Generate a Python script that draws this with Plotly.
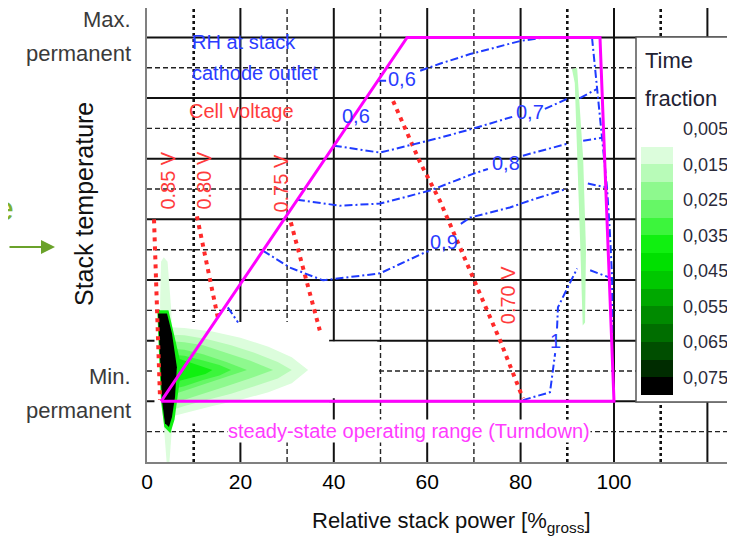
import plotly.graph_objects as go

# The page body adds an 8px margin, so the figure is drawn 8px smaller and all
# reference pixel positions (p) are converted with that offset.
OFF = 8
W, H = 735 - OFF, 542 - OFF
ML, MR, MT, MB = 147 - OFF, 0, 0, 80
PW, PH = W - ML - MR, H - MT - MB
XPX, YPX = 4.67, 30.33          # pixels per x unit / y unit in the reference


def pxx(p):
    return (p - OFF - ML) / PW


def pxy(p):
    return (H - MB - (p - OFF)) / PH


FONT = "Arial, 'Liberation Sans', sans-serif"

# ---------------- data ----------------
x_ticks = [0, 20, 40, 60, 80, 100]
x_tick_labels = ["0", "20", "40", "60", "80", "100"]

# steady-state operating range (turndown): x = relative power [%], y = temperature (grid units, 2 = min, 14 = max permanent)
range_x = [3.0, 55.7, 97.0, 100.0, 3.0]
range_y = [2.0, 14.0, 14.0, 2.0, 2.0]

# cell voltage isolines
v085_x = [1.5, 2.1, 2.8]
v085_y = [8.0, 5.0, 2.05]
v080_x = [10.7, 15.2]
v080_y = [8.1, 4.74]
v075_x = [30.8, 37.0]
v075_y = [7.9, 4.34]
v070_x = [52.7, 58.5, 62.7, 69.8, 75.6, 80.5]
v070_y = [11.9, 9.87, 8.62, 6.05, 4.01, 2.1]
voltage_labels = ["0.85 V", "0.80 V", "0.75 V", "0.70 V"]
voltage_label_x = [4.3, 12.0, 28.7, 77.3]
voltage_label_y = [9.28, 9.28, 9.18, 5.5]

# relative humidity isolines (stack cathode outlet)
rh_a_x = [49.5, 51.2, None, 58.5, 62.7, 69.2, 79.9, 85.2]
rh_a_y = [12.57, 12.57, None, 12.9, 13.13, 13.45, 13.88, 14.0]
rh_b_x = [40.0, 49.9, 62.7, 69.8, 78.2, None, 85.2, 89.9, None, 92.7, 96.4]
rh_b_y = [10.43, 10.2, 10.69, 10.99, 11.38, None, 11.64, 11.97, None, 12.0, 12.3]
rh_c_x = [32.1, 41.3, 49.9, 60.6, 69.8, 73.0, None, 80.5, 89.9, None, 93.4, 97.4]
rh_c_y = [8.65, 8.45, 8.52, 8.95, 9.5, 9.66, None, 10.1, 10.49, None, 10.59, 10.69]
rh_d_x = [24.8, 30.6, 37.7, 49.9, 59.5, 60.3, None, 67.2, 69.2, 77.7, 82.0, 89.9, None, 94.4, 98.5]
rh_d_y = [6.97, 6.41, 5.99, 6.22, 6.91, 6.95, None, 7.85, 8.06, 8.39, 8.62, 9.01, None, 9.18, 9.05]
rh_e_x = [80.5, 86.3, 87.4, None, 87.8, 88.0, 90.1, 92.1, None, 94.9, 99.6]
rh_e_y = [2.04, 2.3, 3.59, None, 4.4, 5.1, 5.76, 6.38, None, 6.32, 6.05]
rh_r_x = [95.3, 96.4, 97.4, 98.5, 99.1, 99.6, 99.6]
rh_r_y = [13.98, 12.3, 10.69, 9.05, 7.63, 6.05, 4.01]
rh_s_x = [17.3, 19.5]
rh_s_y = [5.1, 4.6]
rh_labels = ["0,6", "0,6", "0,7", "0,8", "0,9", "1"]
rh_label_x = [44.8, 54.6, 82.0, 76.9, 63.6, 87.4]
rh_label_y = [11.41, 12.63, 11.54, 9.87, 7.24, 3.98]

# time fraction distribution (filled iso-areas)
tf_streak_lo_x = [3.0, 3.6, 4.4, 5.2, 5.6, 5.4, 4.8, 4.2, 3.6, 3.0, 2.8]
tf_streak_lo_y = [6.6, 6.75, 6.6, 5.0, 3.0, 1.2, 0.0, 0.0, 1.2, 3.5, 5.2]
tf_s1_x = [4, 8, 14, 20, 26, 31, 34.5, 31, 26, 20, 14, 8, 4]
tf_s1_y = [4.45, 4.42, 4.3, 4.1, 3.8, 3.45, 3.03, 2.6, 2.3, 2.05, 1.85, 1.6, 1.45]
tf_s2_x = [4, 8, 13, 18, 23, 28, 31, 28, 23, 18, 13, 8, 4]
tf_s2_y = [4.2, 4.18, 4.05, 3.85, 3.6, 3.3, 3.03, 2.75, 2.5, 2.25, 2.05, 1.85, 1.65]
tf_s3_x = [4, 8, 12, 17, 22, 27, 22, 17, 12, 8, 4]
tf_s3_y = [4.0, 3.95, 3.85, 3.6, 3.35, 3.03, 2.75, 2.5, 2.25, 2.05, 1.9]
tf_s4_x = [4, 8, 12, 17, 21.4, 17, 12, 8, 4]
tf_s4_y = [3.75, 3.7, 3.55, 3.3, 3.03, 2.8, 2.55, 2.35, 2.15]
tf_s5_x = [4, 8, 12, 15.5, 18, 15.5, 12, 8, 4]
tf_s5_y = [3.55, 3.5, 3.35, 3.2, 3.03, 2.85, 2.7, 2.5, 2.35]
tf_s6_x = [2.2, 4.6, 7.0, 10, 12.5, 14, 12.5, 10, 7.0, 5.9, 5.0, 3.7, 3.0, 2.6, 2.2]
tf_s6_y = [5.0, 5.0, 3.4, 3.25, 3.1, 3.03, 2.9, 2.8, 2.68, 1.4, 0.95, 1.15, 2.0, 3.45, 5.0]
tf_core_x = [2.36, 4.28, 5.35, 6.4, 6.0, 5.35, 4.7, 3.85, 3.2, 2.8, 2.36]
tf_core_y = [4.9, 4.9, 4.24, 3.12, 2.14, 1.48, 1.15, 1.28, 2.04, 3.45, 4.9]
tf_streak_hi_x = [91.0, 92.1, 93.4, 94.0, 93.8, 93.3, 92.8, 92.2, 91.6]
tf_streak_hi_y = [12.95, 13.0, 10.0, 7.0, 4.6, 4.5, 7.0, 10.0, 12.5]

tf_shapes = [
    (tf_streak_lo_x, tf_streak_lo_y, 0.010),
    (tf_s1_x, tf_s1_y, 0.010),
    (tf_s2_x, tf_s2_y, 0.015),
    (tf_s3_x, tf_s3_y, 0.020),
    (tf_s4_x, tf_s4_y, 0.025),
    (tf_s5_x, tf_s5_y, 0.030),
    (tf_s6_x, tf_s6_y, 0.035),
    (tf_core_x, tf_core_y, 0.075),
    (tf_streak_hi_x, tf_streak_hi_y, 0.015),
]

# colour legend (time fraction)
tf_band_lo = [0.010, 0.015, 0.020, 0.025, 0.030, 0.035, 0.040, 0.045,
              0.050, 0.055, 0.060, 0.065, 0.070, 0.075]
tf_band_colors = ["#dcfddc", "#b8fbb8", "#8ef98e", "#66f766", "#3cf53c", "#10f010", "#00e000",
                  "#00c800", "#00a800", "#008a00", "#006e00", "#004e00", "#002c00", "#000000"]
tf_tick_vals = [0.005, 0.015, 0.025, 0.035, 0.045, 0.055, 0.065, 0.075]
tf_tick_text = ["0,005", "0,015", "0,025", "0,035", "0,045", "0,055", "0,065", "0,075"]
TF_MIN, TF_MAX = 0.005, 0.080


def band_color(level):
    i = int(round((level - tf_band_lo[0]) / 0.005))
    return tf_band_colors[max(0, min(i, len(tf_band_colors) - 1))]


fig = go.Figure()

# filled time-fraction areas
for xs, ys, lv in tf_shapes:
    fig.add_trace(go.Scatter(x=xs, y=ys, mode="lines", fill="toself",
                             fillcolor=band_color(lv), line=dict(width=0, color=band_color(lv)),
                             hoverinfo="skip", showlegend=False))

# colour bar via dummy trace (values mapped negatively so small values sit on top)
cmin, cmax = -TF_MAX, -TF_MIN
span = cmax - cmin
cs = []
for lo, col in sorted(zip(tf_band_lo, tf_band_colors), key=lambda t: -t[0]):
    hi = lo + 0.005
    p0 = round((-hi - cmin) / span, 5)
    p1 = round((-lo - cmin) / span, 5)
    cs.append([p0, col])
    cs.append([p1, col])
cs.append([round((-0.010 - cmin) / span, 5), "#ffffff"])
cs.append([1.0, "#ffffff"])
cs[0][0] = 0.0

fig.add_trace(go.Scatter(
    x=[-50] * len(tf_tick_vals), y=[-50] * len(tf_tick_vals), mode="markers",
    marker=dict(color=[-v for v in tf_tick_vals], cmin=cmin, cmax=cmax, colorscale=cs,
                showscale=True, size=1,
                colorbar=dict(thickness=32, thicknessmode="pixels", len=266, lenmode="pixels",
                              x=pxx(641), xanchor="left", y=pxy(129), yanchor="top",
                              xpad=0, ypad=0, outlinewidth=0, borderwidth=0,
                              bgcolor="rgba(0,0,0,0)",
                              tickvals=[-v for v in tf_tick_vals], ticktext=tf_tick_text,
                              ticks="outside", ticklen=7, tickcolor="rgba(0,0,0,0)",
                              tickfont=dict(family=FONT, size=18, color="#2b2b3b"))),
    hoverinfo="skip", showlegend=False))

# voltage lines
red = "#ff2a2a"
for xs, ys in [(v085_x, v085_y), (v080_x, v080_y), (v075_x, v075_y), (v070_x, v070_y)]:
    fig.add_trace(go.Scatter(x=xs, y=ys, mode="lines",
                             line=dict(color=red, width=4, dash="4px,5px"),
                             hoverinfo="skip", showlegend=False))

# RH lines
blue = "#1f3bff"
for xs, ys in [(rh_a_x, rh_a_y), (rh_b_x, rh_b_y), (rh_c_x, rh_c_y), (rh_d_x, rh_d_y),
               (rh_e_x, rh_e_y), (rh_r_x, rh_r_y), (rh_s_x, rh_s_y)]:
    fig.add_trace(go.Scatter(x=xs, y=ys, mode="lines", connectgaps=False,
                             line=dict(color=blue, width=2, dash="8px,3px,2px,3px"),
                             hoverinfo="skip", showlegend=False))

# operating range
fig.add_trace(go.Scatter(x=range_x, y=range_y, mode="lines",
                         line=dict(color="#ff00ff", width=3),
                         hoverinfo="skip", showlegend=False))

# ---------------- grid (shapes) ----------------
shapes = []
for xv in range(10, 126, 10):
    if xv % 20 == 0:
        ln = dict(color="#111111", width=2)
    elif xv in (10, 90, 110):
        ln = dict(color="#111111", width=2.6, dash="3px,3px")
    else:
        ln = dict(color="#222222", width=1.4, dash="5px,3px")
    shapes.append(dict(type="line", xref="x", yref="y", x0=xv, x1=xv, y0=0, y1=15,
                       line=ln, layer="below"))
for yv in range(1, 15):
    if yv % 2 == 0:
        ln = dict(color="#111111", width=2)
    else:
        ln = dict(color="#222222", width=1.4, dash="5px,3px")
    shapes.append(dict(type="line", xref="x", yref="y", x0=0, x1=126, y0=yv, y1=yv,
                       line=ln, layer="below"))
# blank areas of the grid in the lower-left
shapes.append(dict(type="rect", xref="x", yref="y", x0=1.6, x1=39.0, y0=1.27, y1=4.62,
                   fillcolor="white", line=dict(width=0), layer="below"))
shapes.append(dict(type="rect", xref="x", yref="y", x0=39.0, x1=49.3, y0=2.1, y1=3.97,
                   fillcolor="white", line=dict(width=0), layer="below"))
# legend box
shapes.append(dict(type="rect", xref="paper", yref="paper", x0=pxx(636), x1=pxx(731),
                   y0=pxy(402), y1=pxy(37), fillcolor="white",
                   line=dict(color="#555555", width=1.5), layer="above"))

# ---------------- annotations ----------------
ann = []


def txt(x, y, text, size, color, xref="paper", yref="paper", xanchor="center", angle=0, **kw):
    d = dict(x=x, y=y, xref=xref, yref=yref, text=text, showarrow=False, xanchor=xanchor,
             yanchor="middle", textangle=angle, font=dict(family=FONT, size=size, color=color))
    d.update(kw)
    ann.append(d)


for t, xv, yv in zip(voltage_labels, voltage_label_x, voltage_label_y):
    txt(xv, yv, t, 20, "#ff3b3b", "x", "y", angle=-90)
for t, xv, yv in zip(rh_labels, rh_label_x, rh_label_y):
    txt(xv, yv, t, 20, "#2a3cff", "x", "y")
txt(pxx(190), pxy(42), "RH at stack", 20, "#2a3cff", xanchor="left")
txt(pxx(190), pxy(73), "cathode outlet", 20, "#2a3cff", xanchor="left")
txt(pxx(187), pxy(111), "Cell voltage", 20, "#ff3b3b", xanchor="left")
txt(56.0, 1.02, "steady-state operating range (Turndown)", 20, "#ff3cff", "x", "y",
    bgcolor="white", borderpad=0)
# legend title
txt(pxx(643), pxy(60), "Time", 22, "#222233", xanchor="left")
txt(pxx(643), pxy(98), "fraction", 22, "#222233", xanchor="left")
# y labels
for t, yy in [("Max.", 20), ("permanent", 53), ("Min.", 376), ("permanent", 410)]:
    txt(pxx(133), pxy(yy), t, 22, "#3a3a3a", xanchor="right")
txt(pxx(84), pxy(204), "Stack temperature", 25, "#111111", angle=-90)
txt(pxx(451), pxy(522), "Relative stack power [%<sub>gross</sub>]", 22, "#111111")
# green arrow and cut-off text on the left
ann.append(dict(x=pxx(55), y=pxy(247), xref="paper", yref="paper", ax=-60, ay=0, text="",
                showarrow=True, arrowhead=2, arrowsize=1.4, arrowwidth=2, arrowcolor="#6aa22a"))
txt(pxx(16), pxy(208), "e", 34, "#7ab030", xanchor="right")

fig.update_layout(
    width=W, height=H,
    margin=dict(l=ML, r=MR, t=MT, b=MB, pad=0, autoexpand=False),
    paper_bgcolor="white", plot_bgcolor="white",
    shapes=shapes, annotations=ann,
    showlegend=False,
    xaxis=dict(range=[0, PW / XPX], showgrid=False, zeroline=False, showline=True,
               linecolor="#808080", linewidth=2, mirror=True,
               tickvals=x_ticks, ticktext=x_tick_labels, ticks="",
               ticklabelstandoff=0,
               tickfont=dict(family=FONT, size=21, color="#000000")),
    yaxis=dict(range=[0, PH / YPX], showgrid=False, zeroline=False, showline=True,
               linecolor="#808080", linewidth=2, showticklabels=False, ticks=""),
)

fig.write_html("out.html")
